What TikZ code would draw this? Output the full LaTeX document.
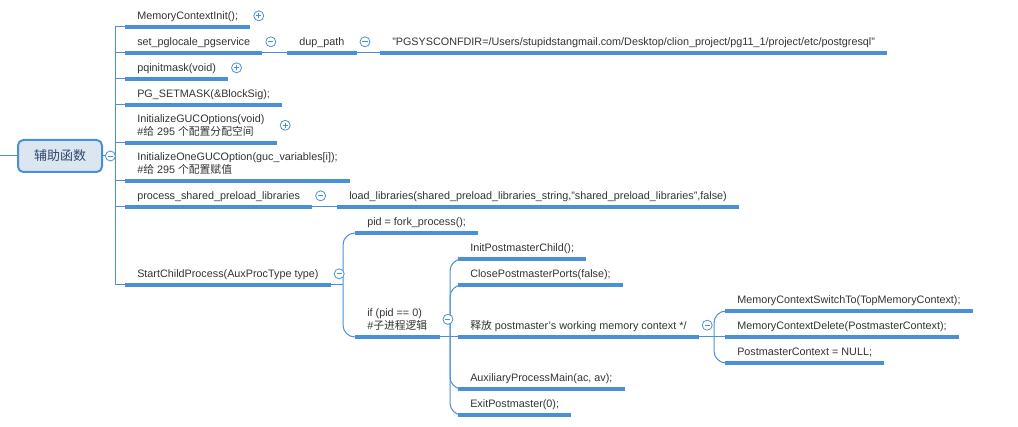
\documentclass[tikz,border=0pt]{standalone}
\usepackage{fontspec}
\setmainfont{Liberation Sans}
\newfontfamily\cjk{Noto Sans CJK SC}
\usepackage{tikz}
\usetikzlibrary{calc,positioning}
\definecolor{linkx}{HTML}{4A90D9}
\definecolor{rootbg}{HTML}{DCE6F1}
\definecolor{rootink}{HTML}{2E4A6A}
\definecolor{inkx}{HTML}{333333}
\tikzset{
  link/.style={linkx,line width=0.75pt},
  uline/.style={linkx,line width=2.3pt},
  topic/.style={anchor=south west,inner xsep=9pt,inner ysep=5.25pt,text depth=0pt,align=left,text=inkx,font=\fontsize{8.1}{9.75}\selectfont},
  root/.style={draw=linkx,line width=1.5pt,rounded corners=4pt,fill=rootbg,text=rootink,minimum width=63pt,minimum height=24pt,font=\fontsize{9.75}{11}\selectfont\cjk},
  fold/.style={circle,draw=linkx,fill=white,line width=0.6pt,minimum size=7.5pt,inner sep=0pt},
  minus/.style={fold,path picture={\draw[linkx,line width=0.6pt] ([xshift=-1.9pt]path picture bounding box.center)--([xshift=1.9pt]path picture bounding box.center);}},
  plus/.style={fold,path picture={\draw[linkx,line width=0.6pt] ([xshift=-1.9pt]path picture bounding box.center)--([xshift=1.9pt]path picture bounding box.center) ([yshift=-1.9pt]path picture bounding box.center)--([yshift=1.9pt]path picture bounding box.center);}},
  brace/.style={link,rounded corners=9pt}
}

\begin{document}
\begin{tikzpicture}[x=0.75pt,y=-0.75pt]
\useasboundingbox (0,0) rectangle (1018,427);
% root
\node[root] (root) at (60,156) {辅助函数};
\coordinate (edge) at (0,156);
\coordinate (j1) at (115,156);
% first level
\node[topic] (m1) at (125,27) {MemoryContextInit();};
\node[topic] (m2) at (125,53) {set\_pglocale\_pgservice};
\node[topic] (m3) at (125,79) {pqinitmask(void)};
\node[topic] (m4) at (125,105) {PG\_SETMASK(\&BlockSig);};
\node[topic] (m5) at (125,143) {InitializeGUCOptions(void)\\\#{\cjk 给} 295 {\cjk 个配置分配空间}};
\node[topic] (m6) at (125,181) {InitializeOneGUCOption(guc\_variables[i]);\\\#{\cjk 给} 295 {\cjk 个配置赋值}};
\node[topic] (m7) at (125,207) {process\_shared\_preload\_libraries};
\node[topic] (m8) at (125,285) {StartChildProcess(AuxProcType type)};
\node[topic] (dup) at (287,53) {dup\_path};
\node[topic] (conf) at (380,53) {"PGSYSCONFDIR=/Users/stupidstangmail.com/Desktop/clion\_project/pg11\_1/project/etc/postgresql"};
\node[topic] (lib) at (337,207) {load\_libraries(shared\_preload\_libraries\_string,"shared\_preload\_libraries",false)};
% child process
\node[topic] (fork) at (355,233) {pid = fork\_process();};
\node[topic] (ifz) at (355,337) {if (pid == 0)\\\#{\cjk 子进程逻辑}};
\node[topic] (k1) at (458,259) {InitPostmasterChild();};
\node[topic] (k2) at (458,285) {ClosePostmasterPorts(false);};
\node[topic] (k3) at (458,337) {{\cjk 释放} postmaster's working memory context */};
\node[topic] (k4) at (458,389) {AuxiliaryProcessMain(ac, av);};
\node[topic] (k5) at (458,415) {ExitPostmaster(0);};
\node[topic] (r1) at (725,311) {MemoryContextSwitchTo(TopMemoryContext);};
\node[topic] (r2) at (725,337) {MemoryContextDelete(PostmasterContext);};
\node[topic] (r3) at (725,363) {PostmasterContext = NULL;};
\coordinate (j2) at (343,285);
\coordinate (j3) at (450,337);
\coordinate (j4) at (714,337);
% connectors
\draw[link] (edge) -- (root.west);
\draw[link] (root.east) -- (j1);
\foreach \n in {m1,m2,m3,m4,m5,m6,m7,m8}{\draw[link] (j1) |- (\n.south west);}
\draw[link] (m2.south east) -- (dup.south west);
\draw[link] (dup.south east) -- (conf.south west);
\draw[link] (m7.south east) -- (lib.south west);
\draw[link] (m8.south east) -- (j2);
\foreach \n in {fork,ifz}{\draw[brace] (j2) |- (\n.south west);}
\draw[link] (ifz.south east) -- (k3.south west);
\foreach \n in {k1,k2,k4,k5}{\draw[brace] (j3) |- (\n.south west);}
\draw[link] (k3.south east) -- (r2.south west);
\foreach \n in {r1,r3}{\draw[brace] (j4) |- (\n.south west);}
% underlines
\foreach \n in {m1,m2,m3,m4,m5,m6,m7,m8,dup,conf,lib,fork,ifz,k1,k2,k3,k4,k5,r1,r2,r3}{\draw[uline] (\n.south west) -- (\n.south east);}
% fold marks
\node[minus,right=1.5pt of root] (f0) {};
\node[plus,right=2.25pt of m1] (f1) {};
\node[minus,right=2.25pt of m2] (f2) {};
\node[minus,right=2.25pt of dup] (f2b) {};
\node[plus,right=2.25pt of m3] (f3) {};
\node[plus,right=2.25pt of m5] (f5) {};
\node[minus,right=2.25pt of m7] (f7) {};
\node[minus,right=2.25pt of m8] (f8) {};
\node[minus,right=2.25pt of ifz] (fz) {};
\node[minus,right=2.25pt of k3] (fk) {};
\end{tikzpicture}
\end{document}
